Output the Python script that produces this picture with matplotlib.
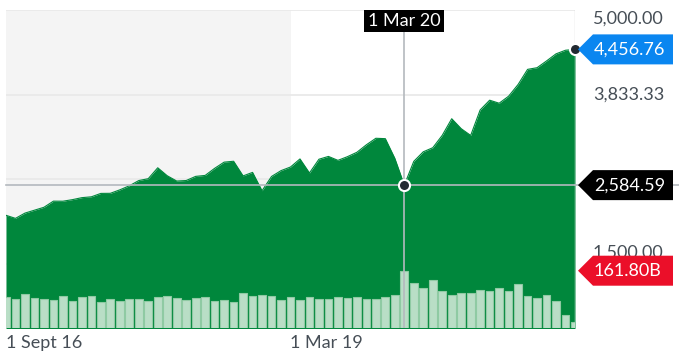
import numpy as np
import pandas as pd
import matplotlib
matplotlib.use('Agg')
from matplotlib import pyplot as plt
from matplotlib.patches import Polygon, Rectangle
from matplotlib.transforms import IdentityTransform, blended_transform_factory

# monthly closes, Sept 2016 .. Sept 2021
dates = pd.date_range('2016-09-01', '2021-09-01', freq='MS')
close = [2168.27, 2126.15, 2198.81, 2238.83,
         2278.87, 2363.64, 2362.72, 2384.20, 2411.80, 2423.41,
         2470.30, 2471.65, 2519.36, 2575.26, 2647.58, 2673.61,
         2823.81, 2713.83, 2640.87, 2648.05, 2705.27, 2718.37,
         2816.29, 2901.52, 2913.98, 2711.74, 2760.17, 2506.85,
         2704.10, 2784.49, 2834.40, 2945.83, 2752.06, 2941.76,
         2980.38, 2926.46, 2976.74, 3037.56, 3140.98, 3230.78,
         3225.52, 2954.22, 2584.59, 2912.43, 3044.31, 3100.29,
         3271.12, 3500.31, 3363.00, 3269.96, 3621.63, 3756.07,
         3714.24, 3811.15, 3972.89, 4181.17, 4204.11, 4297.50,
         4395.26, 4445.00, 4456.76]
# volume in billions
volume = [86.7, 82.7, 96.0, 84.7, 81.0, 79.1, 90.4, 75.4, 88.4, 90.4,
          73.4, 81.0, 77.1, 81.0, 82.7, 75.4, 86.7, 89.5, 85.6, 79.9,
          84.7, 86.7, 75.4, 79.1, 73.4, 98.8, 89.5, 92.3, 89.5, 79.9,
          87.5, 79.9, 86.7, 81.9, 81.0, 88.4, 83.9, 86.7, 81.9, 81.9,
          86.7, 92.3, 161.8, 127.1, 113.0, 134.7, 104.5, 92.3, 99.7, 98.0,
          108.2, 103.6, 112.1, 105.3, 125.1, 91.2, 84.7, 93.2, 76.2, 36.7,
          17.8]
grid_vals = [5000.00, 3833.33, 2666.67, 1500.00]
# 2,666.67 sits behind the crosshair tag, so it gets no label
y_labels = [5000.00, 3833.33, 1500.00]
x_ticks = {'1 Sept 16': pd.Timestamp('2016-09-01'),
           '1 Mar 19': pd.Timestamp('2019-03-01')}
cross_date = pd.Timestamp('2020-03-01')

W, H = 679, 358
text_col = '#464e56'
green = '#00873c'
plt.rcParams['font.family'] = ['Lato', 'DejaVu Sans']
fs = 13

x = np.arange(len(dates))
xi = {d: i for i, d in enumerate(dates)}
ci = xi[cross_date]

fig = plt.figure(figsize=(W / 100, H / 100), dpi=100)
ax = fig.add_axes([6 / W, 30 / H, 569 / W, 318 / H])
ax.set_xlim(0, len(x) - 1)
ax.set_ylim(614, 5000)
for s in ax.spines.values():
    s.set_visible(False)
ax.set_xticks([])
ax.set_yticks([])

# shaded past period and grid
ax.axvspan(0, xi[x_ticks['1 Mar 19']], color='#f4f4f4', zorder=0, lw=0)
for v in grid_vals:
    ax.axhline(v, color='#e8e8e8', lw=1.2, zorder=0.5)
ax.axhline(614, color='#e4e4e4', lw=1.5, zorder=0.5)

ax.fill_between(x, close, 0, color=green, lw=0, zorder=1)
ax.plot(x, close, color=green, lw=0.8, zorder=1)

# crosshair horizontal line runs across to the right edge
blend = blended_transform_factory(ax.transAxes, ax.transData)
ax.plot([0, (W - 6) / 569], [close[ci]] * 2, color='#b4b9be', lw=1.2,
        transform=blend, clip_on=False, zorder=2)

# volume
ax2 = ax.twinx()
ax2.set_ylim(0, 898)
ax2.set_yticks([])
for s in ax2.spines.values():
    s.set_visible(False)
ax2.bar(x, volume, width=0.81, color='#b9dec6', edgecolor='#8fcaa3',
        lw=0.8, zorder=2)
ax2.axvline(ci, ymin=0, ymax=(328 - 32) / 318, color='#b4b9be', lw=1.2,
            zorder=3)
ax2.axvline(len(x) - 1, color='#dadada', lw=1, zorder=3)
ax2.plot([ci, len(x) - 1], [close[ci], close[-1]], 'o', ms=8,
         color='#232a31', mec='white', mew=1.5, transform=ax.transData,
         clip_on=False, zorder=5)

# axis labels
for lbl, d in x_ticks.items():
    ax.annotate(lbl, (xi[d], 0), xycoords=('data', 'axes fraction'),
                xytext=(0, -15), textcoords='offset pixels', ha='left',
                va='center', fontsize=fs, color=text_col)
for v in y_labels:
    if v == 5000:
        off, va = -1, 'top'
    elif v == 1500:
        off, va = 3, 'bottom'
    else:
        off, va = 0, 'center'
    ax.annotate(f'{v:,.2f}', (1, v), xycoords=('axes fraction', 'data'),
                xytext=(18, off), textcoords='offset pixels', ha='left',
                va=va, fontsize=fs, color=text_col)


def tag(yd, label, color):
    pts = [(578, yd), (593, yd + 15), (673, yd + 15), (673, yd - 15),
           (593, yd - 15)]
    fig.add_artist(Polygon(pts, closed=True, fc=color, ec='none',
                           transform=IdentityTransform(), zorder=5))
    fig.text(594, yd, label, transform=IdentityTransform(), ha='left',
             va='center', fontsize=fs, color='white', zorder=6)


tag(ax.transData.transform((0, close[-1]))[1], f'{close[-1]:,.2f}', '#0a86f0')
tag(ax.transData.transform((0, close[ci]))[1], f'{close[ci]:,.2f}', 'black')
tag(ax2.transData.transform((0, volume[ci]))[1], f'{volume[ci]:.2f}B',
    '#eb0f29')

# date tag on top of crosshair
xd = ax.transData.transform((ci, 0))[0]
fig.add_artist(Rectangle((xd - 40, H - 32), 80, 22, fc='black', ec='none',
                         transform=IdentityTransform(), zorder=5))
fig.text(xd, H - 21, cross_date.strftime('1 %b %y'),
         transform=IdentityTransform(), ha='center', va='center',
         fontsize=fs, color='white', zorder=6)

plt.savefig('out.png', dpi=100)
